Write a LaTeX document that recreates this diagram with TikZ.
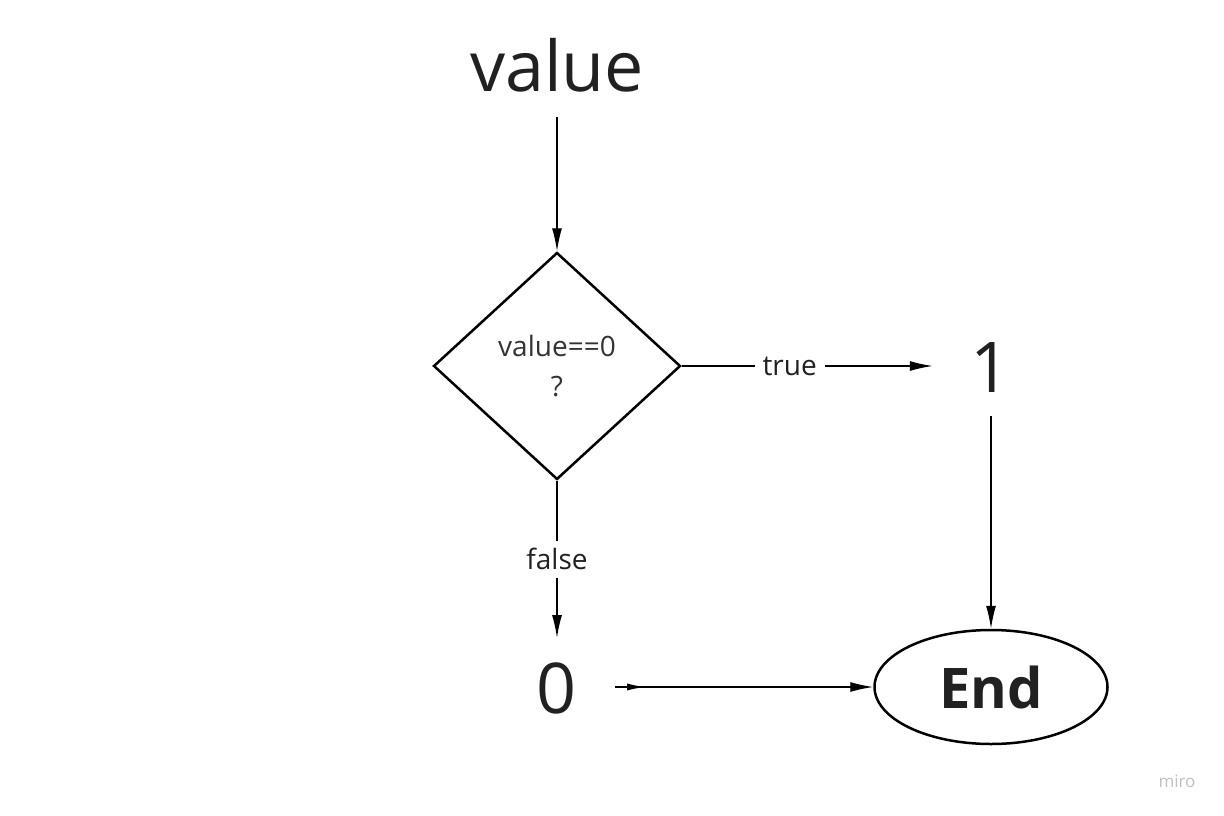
\documentclass[tikz,border=0pt]{standalone}
\usepackage{fontspec}
\setmainfont{Open Sans}
\usetikzlibrary{shapes.geometric,arrows.meta,decorations.markings}

\begin{document}
\begin{tikzpicture}[x=1pt,y=-1pt]
	\tikzset{big/.style={font=\fontsize{70}{84}\selectfont,inner xsep=38pt,inner ysep=24pt,text=black!87},
		arr/.style={-{Latex[length=23pt,width=10pt]},line width=1.4pt},
		lbl/.style={fill=white,font=\fontsize{28}{32}\selectfont,inner xsep=8pt,inner ysep=8pt,text=black!87}}
	\useasboundingbox (0,0) rectangle (1224,816);
	\node (value) at (557,92) [big,anchor=base] {value};
	\node (test) at (557,366) [diamond,draw,line width=2.5pt,minimum width=247pt,minimum height=227pt,
		align=center,text=black!80,font=\fontsize{28}{40}\selectfont] {value==0\\?};
	\node (one) at (991,392) [big,anchor=base] {1};
	\node (zero) at (557,713) [big,anchor=base] {0};
	\node (end) at (991,687) [ellipse,draw,line width=2.5pt,minimum width=233pt,minimum height=114pt,
		font=\bfseries\fontsize{56}{60}\selectfont,text=black!87] {End};
	\node (miro) at (1177,781) [text=black!25,font=\fontsize{17}{19}\selectfont] {miro};

	\draw[arr] (value.south) -- (test.north);
	\draw[arr] (test.east) -- node[lbl,pos=0.43]{true} (test.east -| one.west);
	\draw[arr] (end.north |- one.south) -- (end.north);
	\draw[arr] (test.south) -- node[lbl]{false} (zero.north);
	\draw[arr,decoration={markings,mark=at position 30pt with {\arrow{Latex[length=18pt,width=7pt]}}},
		postaction={decorate}] (zero.east |- end.west) -- (end.west);
\end{tikzpicture}
\end{document}
